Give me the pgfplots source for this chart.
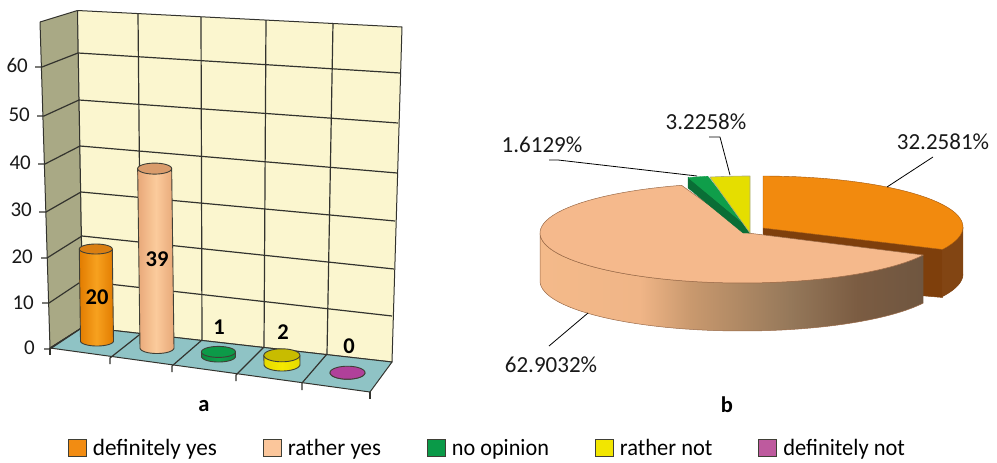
\documentclass[border=0pt]{standalone}
\usepackage{fontspec}
\setmainfont{Carlito}
\usepackage{graphicx}
\usepackage{pgfplots}
\usepackage{pgfplotstable}
\pgfplotsset{compat=1.18}

% Colours
\definecolor{wallback}{HTML}{FBF6CF}
\definecolor{wallside}{HTML}{A9A985}
\definecolor{floorc}{HTML}{8FC3C5}
\definecolor{gridc}{HTML}{33332E}
\definecolor{edgec}{HTML}{3F3F36}
\definecolor{oranM}{HTML}{F7A11F}\definecolor{oranE}{HTML}{E27C00}\definecolor{oranT}{HTML}{DA7F12}
\definecolor{peacM}{HTML}{FBCB9C}\definecolor{peacE}{HTML}{E8A878}\definecolor{peacT}{HTML}{D99C6C}
\definecolor{greeM}{HTML}{0FA04C}\definecolor{greeE}{HTML}{0A8A40}\definecolor{greeT}{HTML}{0C9A48}
\definecolor{yellM}{HTML}{F5E900}\definecolor{yellE}{HTML}{E6DA00}\definecolor{yellT}{HTML}{C8BC00}
\definecolor{purpM}{HTML}{B0409A}\definecolor{purpE}{HTML}{A8388F}\definecolor{purpT}{HTML}{B0409A}
\definecolor{pieOr}{HTML}{F28A0E}\definecolor{pieOrD}{HTML}{7E3F0C}
\definecolor{piePe}{HTML}{F5B98C}\definecolor{piePeL}{HTML}{9A6A48}
\definecolor{pieGr}{HTML}{0F9E4A}\definecolor{pieGrD}{HTML}{0A6E36}
\definecolor{pieYe}{HTML}{E5DE00}
\definecolor{legOr}{HTML}{F28C12}\definecolor{legPe}{HTML}{FBC69B}\definecolor{legGr}{HTML}{0A9A48}
\definecolor{legYe}{HTML}{F2E600}\definecolor{legPu}{HTML}{BE5A9E}
\definecolor{ps0}{HTML}{F4BA8A}\definecolor{ps1}{HTML}{F0B587}\definecolor{ps2}{HTML}{C9996E}
\definecolor{ps3}{HTML}{95785A}\definecolor{ps4}{HTML}{7B5C42}\definecolor{ps5}{HTML}{6F5640}
\pgfdeclarehorizontalshading{pieside}{100bp}{color(0bp)=(ps0); color(25bp)=(ps0); color(38bp)=(ps1);
  color(44.6bp)=(ps2); color(57.6bp)=(ps3); color(66.4bp)=(ps4); color(75bp)=(ps5); color(100bp)=(ps5)}

% Answers: count, base centre and radii of each cylinder
\pgfplotstableread{
count bx  by    rx   ry
20    97  341   16.5 5
39    157 348   17   5.5
1     218.5 356.5 17 5.5
2     282 364.5 18   6.5
0     347.5 372.7 17.5 6.5
}\answers
% Shares of the answers in per cent
\pgfplotstableread{
share
32.2581
62.9032
1.6129
3.2258
0
}\shares

% Point-list helpers: the lists are collected, then handed to \addplot
\newcommand\resetpts{\xdef\pts{}}
\newcommand\addpt[2]{\xdef\pts{\pts (#1,#2)}}
\newcommand\addarc[7]{%
  \foreach \k in {0,...,#7}{%
    \pgfmathsetmacro\th{#5+(#6-#5)*\k/#7}%
    \pgfmathsetmacro\xx{#1+#3*sin(\th)}%
    \pgfmathsetmacro\yy{#2-#4*cos(\th)}%
    \addpt{\xx}{\yy}}}
\newcommand\plotpts[1]{\edef\tmp{\noexpand\addplot[forget plot,no markers,line join=round,#1] coordinates {\pts};}\tmp}
\newcommand\poly[2]{\addplot[forget plot,no markers,line join=round,#1] coordinates {#2};}
\newcommand\legimg[1]{\addlegendimage{legend image code/.code={\draw[line width=0.9pt,draw=edgec,fill=#1] (0pt,-8.5pt) rectangle (18pt,8.5pt);}}}

% One cylinder, from a row of the answers table
\newcommand\cyl[4]{%
  \pgfplotstablegetelem{#1}{count}\of\answers\pgfmathsetmacro\cv{\pgfplotsretval}%
  \pgfplotstablegetelem{#1}{bx}\of\answers\pgfmathsetmacro\cbx{\pgfplotsretval}%
  \pgfplotstablegetelem{#1}{by}\of\answers\pgfmathsetmacro\cby{\pgfplotsretval}%
  \pgfplotstablegetelem{#1}{rx}\of\answers\pgfmathsetmacro\crx{\pgfplotsretval}%
  \pgfplotstablegetelem{#1}{ry}\of\answers\pgfmathsetmacro\cry{\pgfplotsretval}%
  \pgfmathsetmacro\ctx{\cbx-0.06*\cv}%
  \pgfmathsetmacro\cty{\cby-4.6*\cv}%
  \pgfmathsetmacro\ctr{\ctx+\crx}\pgfmathsetmacro\ctl{\ctx-\crx}%
  \resetpts
  \addpt{\ctr}{\cty}\addarc{\cbx}{\cby}{\crx}{\cry}{90}{270}{24}\addpt{\ctl}{\cty}\addpt{\ctr}{\cty}%
  \plotpts{draw=edgec,line width=0.9pt,shade,left color=#3,right color=#3,middle color=#2}%
  \resetpts
  \addarc{\ctx}{\cty}{\crx}{\cry}{0}{360}{40}%
  \plotpts{draw=edgec,line width=0.9pt,fill=#4}}

\begin{document}
\begin{tikzpicture}
\begin{axis}[
  hide axis, scale only axis, width=997pt, height=463pt,
  xmin=0, xmax=997, ymin=0, ymax=463, y dir=reverse, clip=false,
  legend columns=5,
  legend style={at={(axis cs:68,448)},anchor=west,draw=none,fill=none,
    inner sep=0pt,outer sep=0pt,
    font=\fontsize{23.4}{26}\selectfont,
    /tikz/every even column/.append style={column sep=44pt},
    /tikz/every odd column/.append style={column sep=4pt}},
]
% Page extent of the whole figure
\draw[draw=none] (axis cs:0,0) rectangle (axis cs:997,463);

% Legend entries
\legimg{legOr}\addlegendentry{\scalebox{0.99}[1]{definitely yes}}
\legimg{legPe}\addlegendentry{\scalebox{0.98}[1]{rather yes}}
\legimg{legGr}\addlegendentry{\scalebox{0.95}[1]{no opinion}}
\legimg{legYe}\addlegendentry{\scalebox{0.96}[1]{rather not}}
\legimg{legPu}\addlegendentry{\scalebox{0.96}[1]{definitely not}}

% ---- Chart a: walls and floor ----
\poly{fill=wallside,draw=gridc,line width=1pt}{(40,22)(77.5,10.5)(83,327)(50,348)(40,22)}
\poly{fill=wallback,draw=gridc,line width=1pt}{(77.5,10.5)(402,27)(392,362)(83,327)(77.5,10.5)}
\poly{fill=floorc,draw=gridc,line width=1pt}{(83,327)(392,362)(370,392)(50,348)(83,327)}
% Gridlines on the back wall
\poly{draw=gridc,line width=1.2pt}{(78,53)(400,73)}
\poly{draw=gridc,line width=1.2pt}{(79,100)(398,123)}
\poly{draw=gridc,line width=1.2pt}{(80,146)(397,173)}
\poly{draw=gridc,line width=1.2pt}{(81,192)(395,221)}
\poly{draw=gridc,line width=1.2pt}{(82,236)(394,269)}
\poly{draw=gridc,line width=1.2pt}{(82,281)(392,316)}
\poly{draw=gridc,line width=1.2pt}{(138,14)(141,333.5)}
\poly{draw=gridc,line width=1.2pt}{(201,17)(202,340)}
\poly{draw=gridc,line width=1.2pt}{(266,20)(264,347)}
\poly{draw=gridc,line width=1.2pt}{(333,23)(327,354)}
% Gridlines on the side wall, with the value ticks
\poly{draw=gridc,line width=1.2pt}{(35,67)(42,67)(78,53)}
\poly{draw=gridc,line width=1.2pt}{(37,116)(44,116)(79,100)}
\poly{draw=gridc,line width=1.2pt}{(38,164)(45,164)(80,146)}
\poly{draw=gridc,line width=1.2pt}{(39,212)(46,212)(81,192)}
\poly{draw=gridc,line width=1.2pt}{(41,258)(47,258)(82,236)}
\poly{draw=gridc,line width=1.2pt}{(42,303)(49,303)(82,281)}
\poly{draw=gridc,line width=1.2pt}{(44,349)(50,349)(83,327)}
% Floor divisions and category ticks
\poly{draw=gridc,line width=1.2pt}{(50,348)(50,355)}
\poly{draw=gridc,line width=1.2pt}{(141,333.5)(110,358)(110,364)}
\poly{draw=gridc,line width=1.2pt}{(202,340)(172,366)(172,372)}
\poly{draw=gridc,line width=1.2pt}{(264,347)(236,375)(236,381)}
\poly{draw=gridc,line width=1.2pt}{(327,354)(302,383)(302,390)}
\poly{draw=gridc,line width=1.2pt}{(370,392)(370,399)}

% ---- Chart a: cylinders ----
\cyl{0}{oranM}{oranE}{oranT}
\cyl{1}{peacM}{peacE}{peacT}
\cyl{2}{greeM}{greeE}{greeT}
\cyl{3}{yellM}{yellE}{yellT}
\cyl{4}{purpM}{purpE}{purpT}

% ---- Chart b: angles from the shares ----
\pgfplotstablegetelem{0}{share}\of\shares\pgfmathsetmacro\angA{3.6*\pgfplotsretval}
\pgfplotstablegetelem{1}{share}\of\shares\pgfmathsetmacro\angB{\angA+3.6*\pgfplotsretval}
\pgfplotstablegetelem{2}{share}\of\shares\pgfmathsetmacro\angC{\angB+3.6*\pgfplotsretval}
\pgfplotstablegetelem{3}{share}\of\shares\pgfmathsetmacro\angD{\angC+3.6*\pgfplotsretval}
% Orange slice: cut face, rim, top
\resetpts\addpt{763}{228}\addarc{763}{227}{200}{51}{\angA}{\angA}{1}\addarc{763}{275}{200}{51}{\angA}{\angA}{1}\addpt{763}{282}\addpt{763}{228}
\plotpts{fill=pieOrD,draw=pieOrD,line width=0.5pt}
\resetpts\addarc{763}{227}{200}{51}{90}{\angA}{12}\addarc{763}{274}{200}{51}{\angA}{90}{12}
\plotpts{fill=pieOrD!97!white,draw=pieOrD,line width=0.5pt}
\resetpts\addpt{763}{228}\addarc{763}{227}{200}{51}{0}{\angA}{36}\addpt{763}{228}
\plotpts{fill=pieOr,draw=pieOrD!70!pieOr,line width=0.4pt}
% Peach slice: outer side, then top
\resetpts\addarc{742}{233}{202}{50}{\angA}{270}{50}\addarc{742}{281}{202}{50}{270}{\angA}{50}
\plotpts{shade,shading=pieside,draw=piePeL,line width=0.5pt}
\resetpts\addpt{748}{233}\addarc{742}{233}{202}{50}{\angA}{\angB}{70}\addpt{748}{233}
\plotpts{fill=piePe,draw=piePeL,line width=0.5pt}
% Green slice: inner face, then top
\poly{fill=pieGrD,draw=pieGrD,line width=0.3pt}{(688,177)(688,188)(743,233)(750,233)(749,228)(688,177)}
\resetpts\addpt{749}{228}\addarc{748}{232}{200}{57}{\angB}{\angC}{4}\addpt{749}{228}
\plotpts{fill=pieGr,draw=pieGr,line width=0.3pt}
% Yellow slice
\resetpts\addpt{750}{233}\addarc{750}{228}{200}{52}{\angC}{\angD}{6}\addpt{750}{233}
\plotpts{fill=pieYe,draw=wallside,line width=0.6pt}

% Leader lines of the pie labels
\poly{draw=black,line width=0.8pt}{(887,187)(933,157)}
\poly{draw=black,line width=0.8pt}{(730,175)(720,137)(709,137)}
\poly{draw=black,line width=0.8pt}{(549,160)(558,160)(697,176)}
\poly{draw=black,line width=0.8pt}{(588,313)(549,346)}

% ---- Text ----
\newcommand\lab[3]{\node[inner sep=0pt,font=\fontsize{23}{26}\selectfont,text=black!90] at (axis cs:#1,#2) {#3};}
\newcommand\tl[3]{\node[inner sep=0pt,anchor=east,font=\fontsize{21}{24}\selectfont,text=black!90] at (axis cs:#1,#2) {#3};}
\newcommand\bl[3]{\node[inner sep=0pt,font=\bfseries\fontsize{22.5}{25}\selectfont,text=black] at (axis cs:#1,#2) {#3};}
\tl{28}{65}{60}\tl{30}{115}{50}\tl{31}{163}{40}\tl{32}{210}{30}\tl{33}{257}{20}\tl{34}{303}{10}\tl{35}{348}{0}
\bl{97}{297}{20}\bl{157}{259}{39}\bl{219}{327}{1}\bl{283}{332}{2}\bl{349}{346}{0}
\bl{204}{406}{a}\bl{727}{405}{b}
\lab{943}{142}{32.2581\%}
\lab{706}{122}{3.2258\%}
\lab{542}{145}{1.6129\%}
\lab{551}{365}{62.9032\%}
\end{axis}
\end{tikzpicture}
\end{document}
